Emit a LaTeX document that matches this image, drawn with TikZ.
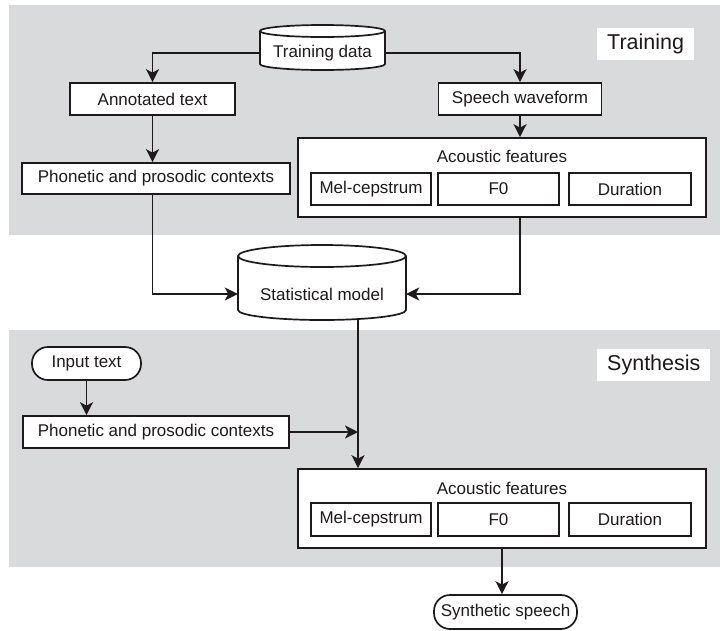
\documentclass[tikz,border=0pt]{standalone}
\usepackage{fontspec}
\setmainfont{Liberation Sans}
\usetikzlibrary{arrows.meta}
\definecolor{band}{RGB}{217,218,220}
\definecolor{ink}{RGB}{30,26,27}

\begin{document}
\begin{tikzpicture}[x=1pt, y=-1pt,
  every node/.style={text=ink, inner sep=0pt, font=\fontsize{17}{20}\selectfont},
  box/.style={draw=ink, fill=white, line width=1.7pt},
  pill/.style={box, rounded corners=16pt},
  tag/.style={fill=white, inner xsep=10pt, minimum height=32pt, font=\fontsize{21.5}{24}\selectfont},
  drum/.style={draw=ink, fill=white, line width=1.7pt},
  arr/.style={draw=ink, line width=1.7pt, -{Stealth[length=13pt, width=13pt, inset=3.5pt]}}]
\useasboundingbox (0,0) rectangle (720,630);
\fill[band] (9,5) rectangle (720,235);
\fill[band] (9,330) rectangle (720,567);

% drums
\draw[drum] (260,31) -- (260,64) arc[start angle=180, end angle=360, x radius=62.5pt, y radius=6pt]
  -- (385,31) arc[start angle=0, end angle=180, x radius=62.5pt, y radius=6pt] -- cycle;
\draw[drum] (260,31) arc[start angle=180, end angle=360, x radius=62.5pt, y radius=6pt];
\draw[drum] (238,256) -- (238,310) arc[start angle=180, end angle=360, x radius=84pt, y radius=10pt]
  -- (406,256) arc[start angle=0, end angle=180, x radius=84pt, y radius=11pt] -- cycle;
\draw[drum] (238,256) arc[start angle=180, end angle=360, x radius=84pt, y radius=11pt];

% training
\node[tag, anchor=west] (traintag) at (597,44) {Training};
\node[minimum width=125, minimum height=34] (data) at (322.5,53) {Training data};
\node[box, minimum width=165, minimum height=32] (annot) at (152.5,99) {Annotated text};
\node[box, minimum width=163, minimum height=32] (wave) at (520,99) {Speech waveform};
\node[box, minimum width=268, minimum height=31] (ctx1) at (156,178.5) {Phonetic and prosodic contexts};
\node[box, minimum width=408, minimum height=79] (feat1) at (502,177.5) {};
\node (feat1t) at (502,156) {Acoustic features};
\node[box, minimum width=120, minimum height=32] (mel1) at (371,189) {Mel-cepstrum};
\node[box, minimum width=121, minimum height=32] (f01) at (498.5,189) {F0};
\node[box, minimum width=122, minimum height=32] (dur1) at (630,189) {Duration};

\node[minimum width=168, minimum height=52] (model) at (322,294) {Statistical model};

% synthesis
\node[tag, anchor=west] (syntag) at (597,365) {Synthesis};
\node[pill, minimum width=109, minimum height=33] (input) at (86.5,363.5) {Input text};
\node[box, minimum width=266, minimum height=32] (ctx2) at (156,432) {Phonetic and prosodic contexts};
\coordinate (join) at (358,430);
\node[box, minimum width=408, minimum height=79] (feat2) at (502,508.5) {};
\node (feat2t) at (502,488) {Acoustic features};
\node[box, minimum width=120, minimum height=33] (mel2) at (371,519.5) {Mel-cepstrum};
\node[box, minimum width=121, minimum height=33] (f02) at (498.5,519.5) {F0};
\node[box, minimum width=122, minimum height=33] (dur2) at (630,519.5) {Duration};
\node[pill, minimum width=143, minimum height=34] (synth) at (505.5,612) {Synthetic speech};

\draw[arr] (data.west) -| (annot.north);
\draw[arr] (data.east) -| (wave.north);
\draw[arr] (annot.south) -- (annot.south |- ctx1.north);
\draw[arr] (wave.south) -- (wave.south |- feat1.north);
\draw[arr] (annot.south |- ctx1.south) |- (model.west);
\draw[arr] (wave.south |- feat1.south) |- (model.east);
\draw[arr] (model.south -| join) -- (join |- feat2.north);
\draw[arr] (input.south) -- (input.south |- ctx2.north);
\draw[arr] (ctx2.east) -- (ctx2.east -| join);
\draw[arr] (feat2.south) -- (feat2.south |- synth.north);
\end{tikzpicture}
\end{document}
